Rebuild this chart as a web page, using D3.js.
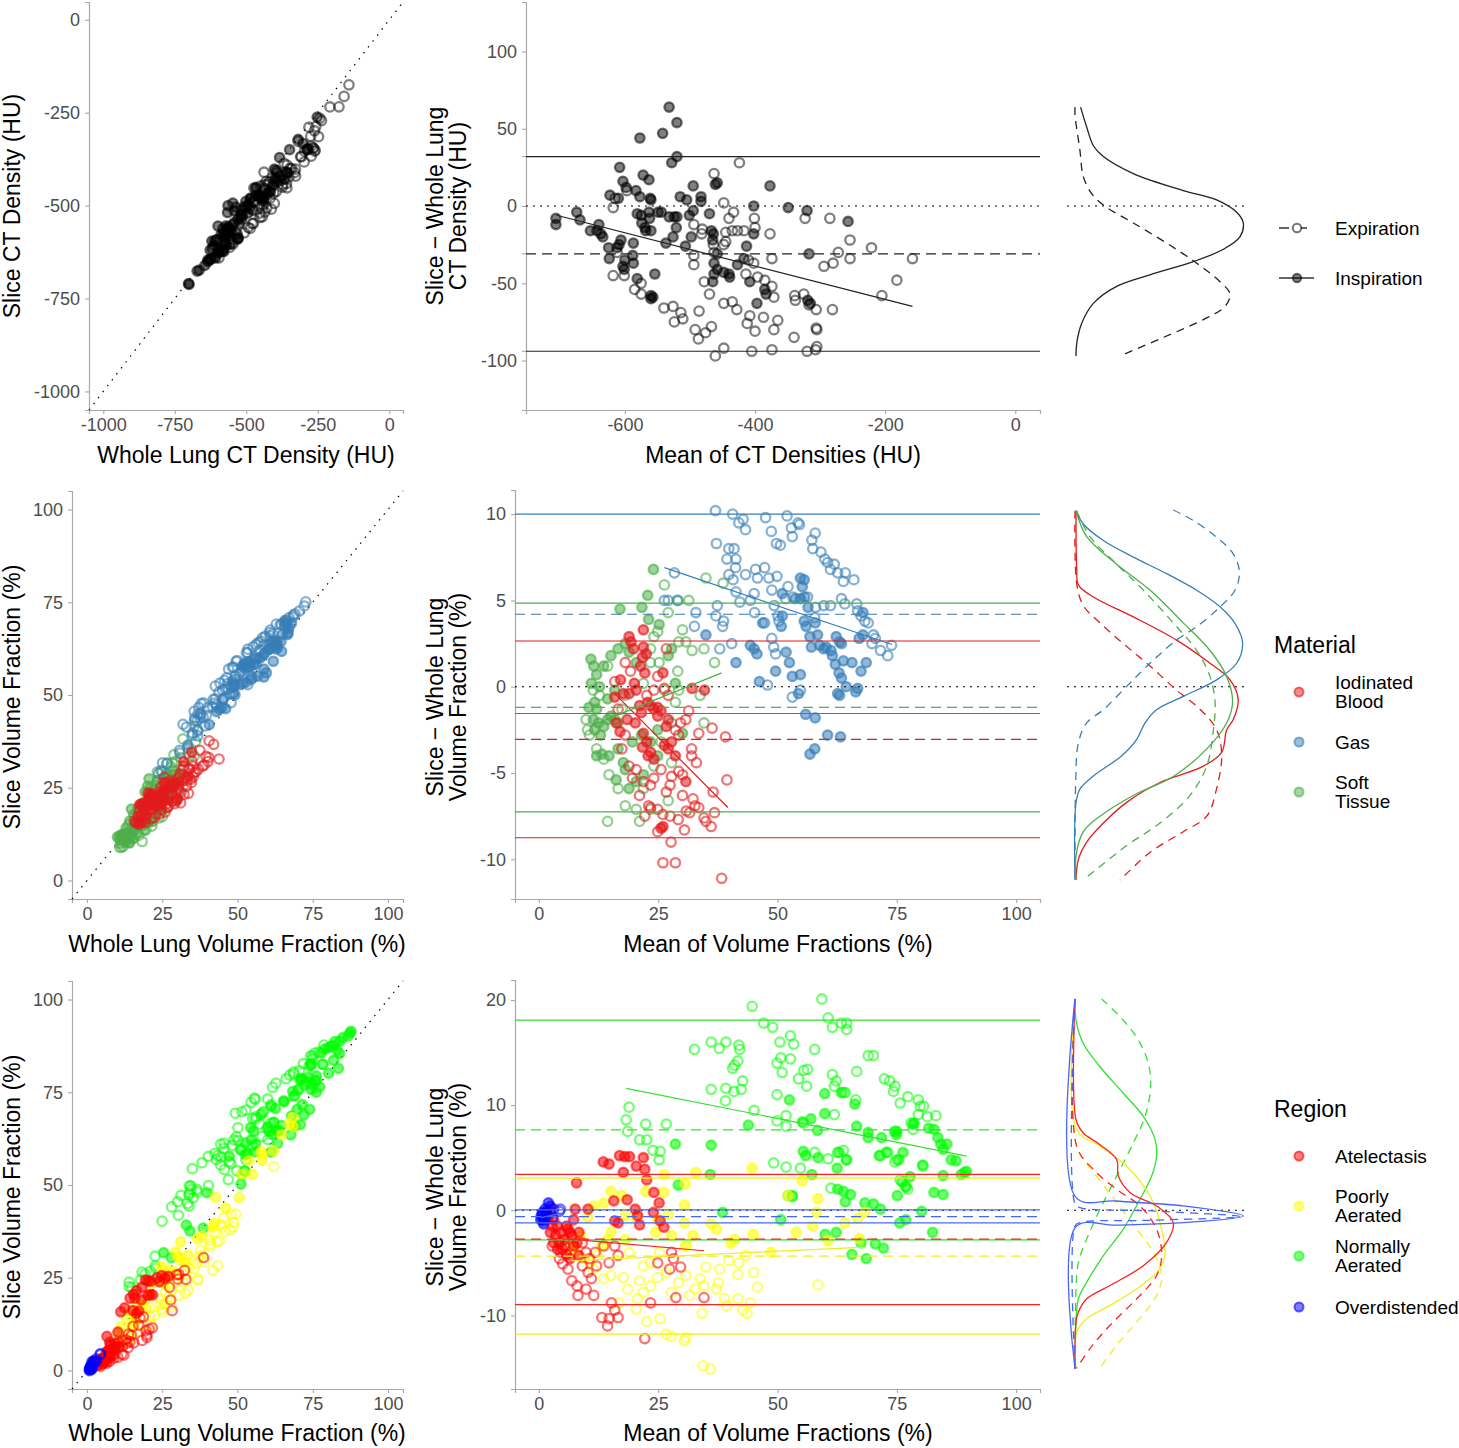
<!DOCTYPE html>
<html><head><meta charset="utf-8">
<script src="https://cdn.jsdelivr.net/npm/d3@7"></script>
<style>body{margin:0;background:#fff}svg{display:block}</style>
</head><body>
<script>
// ================= DATA =================
// ---- Row 1: CT density (HU); points stored as [mean, difference] ----
const phases = ["Expiration", "Inspiration"];
const ctInsp = [[-706,-8],[-706,-12],[-674,-4],[-669,-9],[-653,-16],[-643,-16],[-640,-12],[-637,-18],[-634,-20],[-532,64],[-520,54],[-542,47],[-577,44],[-520,32],[-528,28],[-608,25],[-572,20],[-563,17],[-603,16],[-598,12],[-583,10],[-623,7],[-610,5],[-577,6],[-561,5],[-560,4],[-515,6],[-505,4],[-495,13],[-483,6],[-483,3],[-461,14],[-458,15],[-377,13],[-402,0],[-349,-1],[-320,-3],[-257,-10],[-317,-31],[-563,-4],[-549,-4],[-544,-4],[-532,-7],[-524,-7],[-520,-7],[-575,-6],[-562,-8],[-521,-14],[-501,-6],[-495,-3],[-560,-16],[-569,-14],[-526,-20],[-507,-26],[-498,-20],[-470,-5],[-467,-16],[-464,-18],[-465,-22],[-458,-31],[-463,-37],[-463,-44],[-458,-41],[-448,-43],[-440,-44],[-439,-46],[-465,-49],[-427,-38],[-413,-26],[-417,-34],[-408,-49],[-402,-18],[-397,-63],[-385,-54],[-383,-57],[-319,-61],[-315,-63],[-537,-24],[-554,-44],[-560,-58],[-560,-60],[-557,-59],[-581,-47],[-588,-32],[-587,-37],[-600,-35],[-603,-39],[-601,-41],[-606,-22],[-609,-25],[-612,-27],[-625,-27],[-624,-34],[-587,-24],[-581,-5],[-574,-11],[-568,-16]];
const ctExp = [[-424,28],[-463,21],[-448,2],[-401,-8],[-400,-14],[-417,-16],[-435,-16],[-445,-17],[-445,-23],[-448,-25],[-481,-15],[-285,-8],[-254,-22],[-272,-30],[-221,-27],[-254,-34],[-158,-34],[-280,-37],[-294,-39],[-182,-48],[-205,-58],[-323,-8],[-374,-34],[-396,-46],[-385,-48],[-374,-52],[-371,-59],[-339,-58],[-338,-61],[-325,-57],[-317,-64],[-306,-67],[-281,-67],[-306,-79],[-305,-80],[-340,-85],[-320,-94],[-307,-93],[-305,-91],[-374,-93],[-405,-94],[-371,-80],[-365,-74],[-387,-72],[-400,-81],[-408,-71],[-412,-76],[-428,-67],[-435,-62],[-448,-63],[-448,-92],[-461,-97],[-467,-78],[-476,-82],[-487,-86],[-492,-80],[-486,-68],[-478,-49],[-470,-57],[-514,-69],[-511,-73],[-526,-65],[-524,-75],[-540,-66],[-575,-57],[-575,-50],[-585,-54],[-601,-45],[-618,-45],[-612,-30],[-618,-1],[-615,5],[-597,10],[-494,-12],[-482,-18],[-494,-32],[-494,-38],[-440,-8],[-433,-4],[-427,-16],[-414,-44],[-464,-25],[-463,-30],[-410,-35],[-402,-37],[-377,-18]];
const ctBias = -31, ctUpper = 32, ctLower = -94;
const ctReg = [[-705,-6],[-158,-65]];
const ctDensInsp = [[64,0.033],[51,0.069],[39,0.108],[32,0.167],[21,0.343],[10,0.637],[4,0.833],[-4,0.951],[-11,0.99],[-20,0.97],[-28,0.873],[-36,0.696],[-44.5,0.441],[-52,0.245],[-63,0.108],[-76,0.039],[-89,0.01],[-97,0.006]];
const ctDensExp = [[64,0.0],[59,0.0],[36,0.029],[19,0.049],[8,0.098],[0.6,0.167],[-11,0.343],[-24,0.539],[-37,0.716],[-49,0.853],[-57,0.912],[-65,0.882],[-73.5,0.755],[-85,0.52],[-97,0.265]];
const ctXTicksScatter = [-1000,-750,-500,-250,0];
const ctXTicksBA = [-600,-400,-200,0];
const ctYTicksBA = [-100,-50,0,50,100];

// ---- Row 2: Material volume fractions (%) ----
const materials = ["Iodinated Blood", "Gas", "Soft Tissue"];
const materialColors = ["#E41A1C", "#377EB8", "#4DAF4A"];
const gasExp = [[37.0,10.2],[40.6,10.0],[41.9,9.5],[42.8,9.7],[43.3,9.1],[47.5,9.8],[52.0,9.9],[52.9,9.2],[53.1,8.7],[54.3,9.5],[54.6,9.4],[48.7,9.0],[49.8,8.3],[50.6,8.2],[57.9,8.9],[57.2,8.5],[57.4,8.0],[59.1,7.8],[59.9,7.4],[60.5,7.2],[61.9,7.1],[61.1,6.8],[62.6,6.6],[64.2,6.6],[63.8,6.1],[66.0,6.2],[37.2,8.3],[39.8,8.0],[40.9,8.0],[39.4,7.4],[41.3,7.4],[41.2,6.9],[39.8,6.5],[40.7,6.2],[43.3,6.5],[45.4,6.8],[47.3,6.9],[45.8,6.3],[48.2,6.3],[49.9,6.4],[28.4,6.6],[26.3,5.0],[27.1,5.0],[29.0,5.0],[32.9,4.3],[32.6,3.5],[37.4,4.7],[37.1,4.1],[38.7,3.8],[38.5,3.5],[41.3,5.5],[42.1,4.9],[44.3,5.0],[45.1,5.4],[45.2,4.3],[47.3,3.7],[48.8,5.6],[49.3,4.7],[50.1,4.1],[50.3,3.8],[52.2,5.8],[51.7,5.1],[53.2,5.2],[56.3,5.2],[58.0,4.6],[57.8,4.0],[59.7,4.7],[61.1,4.7],[63.4,5.1],[64.1,4.8],[66.6,4.8],[66.8,4.4],[67.5,4.1],[68.3,3.8],[69.0,3.7],[70.1,3.0],[70.5,2.8],[71.6,2.1],[73.1,1.8],[73.9,2.4],[69.8,2.5],[49.2,2.3],[49.6,1.9],[48.8,2.8],[37.9,2.2],[40.4,2.5],[47.9,0.1],[53.1,-0.6],[54.8,-0.2]];
const gasInsp = [[35.0,3.0],[41.3,1.4],[44.3,2.4],[45.1,2.2],[45.7,1.9],[46.2,0.3],[46.9,3.7],[49.6,0.9],[51.0,4.1],[50.8,3.5],[51.8,2.0],[52.5,1.4],[53.1,0.6],[54.8,0.7],[54.4,-0.4],[54.8,5.1],[55.7,5.2],[55.6,3.8],[56.0,3.5],[56.8,2.9],[57.1,2.3],[57.9,3.7],[58.4,3.0],[58.8,2.4],[59.7,2.2],[60.2,2.3],[61.2,2.1],[61.5,1.8],[62.1,1.3],[62.9,0.8],[63.4,0.5],[64.4,0.0],[66.4,-0.3],[66.8,-0.1],[65.6,1.4],[67.5,0.9],[68.6,1.4],[67.1,2.8],[67.9,3.0],[67.9,4.3],[62.3,2.9],[63.0,2.6],[63.4,2.5],[63.8,1.5],[55.9,-1.6],[57.9,-1.8],[60.5,-2.8],[63.2,-2.9],[56.8,-3.9],[57.8,-3.6],[63.0,-0.5],[62.6,-0.4],[55.6,6.2],[54.8,6.3],[55.2,5.8],[53.7,5.1],[56.4,4.6],[51.0,5.4]];
const bloodInsp = [[21.9,3.3],[19.3,2.6],[19.8,2.2],[21.7,1.7],[22.5,1.9],[21.3,1.2],[22.2,0.8],[26.0,0.8],[20.0,0.2],[22.8,-0.9],[23.4,-1.1],[24.1,-1.3],[24.9,-1.2],[25.6,-1.4],[21.1,-1.1],[21.5,-1.5],[24.9,-1.7],[27.1,-1.9],[26.7,-2.3],[20.2,-2.1],[21.9,-2.7],[22.6,-3.2],[21.7,-3.5],[23.4,-3.8],[27.8,-3.2],[27.1,-3.6],[28.6,-4.0],[30.8,-5.5],[17.1,0.4],[17.7,-0.4],[18.9,-0.4],[20.4,-0.2],[32.1,-0.1],[34.7,-0.2],[18.9,2.9],[21.9,2.3],[25.6,-8.2],[26.0,-8.1],[15.9,-0.6],[16.2,-2.1],[17.0,-2.6],[18.5,-1.9],[22.9,-4.0],[24.1,-4.2],[26.3,-3.4]];
const bloodExp = [[26.0,-10.2],[28.6,-10.2],[38.3,-11.1],[36.5,-6.1],[39.4,-5.4],[39.1,-2.9],[36.3,-2.4],[33.5,-2.7],[32.0,-3.6],[32.0,-4.0],[33.0,-4.4],[29.3,-4.9],[30.1,-5.1],[27.8,-5.2],[27.5,-5.7],[26.7,-6.1],[30.1,-6.3],[32.3,-6.5],[32.7,-6.9],[33.5,-7.0],[30.9,-7.2],[31.6,-7.3],[23.4,-7.0],[24.9,-7.1],[26.0,-7.4],[27.5,-7.5],[29.2,-7.7],[30.5,-8.3],[27.7,-9.0],[34.6,-7.6],[35.0,-7.8],[36.1,-8.1],[36.8,-7.3],[24.9,-8.4],[22.2,-7.5],[23.0,-6.9],[21.1,-6.3],[21.9,-5.5],[23.4,-5.7],[24.1,-5.3],[20.4,-4.8],[19.6,-5.3],[18.9,-4.6],[25.6,-4.8],[28.6,-2.5],[29.3,-2.8],[29.7,-2.1],[30.8,-1.9],[31.4,-1.4],[27.1,-0.5],[26.3,-0.1],[24.1,-0.2],[24.9,0.6],[26.7,2.2],[22.6,-0.5],[18.1,-2.8],[17.4,-3.6],[16.6,-1.3],[18.1,1.4],[19.2,0.9],[15.9,0.3]];
const softInsp = [[24.0,6.8],[22.8,5.3],[17.0,4.5],[21.6,4.6],[25.2,3.6],[23.0,3.9],[10.9,1.6],[11.5,1.2],[12.1,0.7],[11.0,0.2],[12.7,0.0],[10.5,-1.2],[11.7,-0.9],[12.1,-1.3],[11.4,-1.9],[12.5,-2.1],[13.6,-2.3],[11.7,-2.5],[12.9,-2.8],[14.4,-1.9],[15.1,-1.7],[16.6,-2.1],[14.4,-0.7],[15.9,-0.2],[13.6,1.2],[15.1,1.8],[16.6,2.2],[18.1,2.5],[18.9,2.0],[20.4,1.4],[12.1,-4.0],[13.2,-3.9],[14.7,-4.0],[16.6,-3.6],[16.2,-5.4],[18.1,-4.8],[20.4,-5.5],[18.9,-5.9],[21.9,-5.1],[17.7,-4.4],[24.9,-2.5],[28.6,0.2],[30.1,-2.7],[23.4,-3.2],[24.9,-4.0],[27.1,1.8],[27.8,2.2],[19.6,-3.2],[21.5,-2.8]];
const softExp = [[35.0,6.3],[38.6,6.0],[26.3,5.9],[29.2,5.0],[31.4,5.0],[27.1,4.3],[30.1,3.3],[29.3,2.6],[30.8,2.6],[34.6,2.2],[32.1,2.1],[36.8,1.4],[24.9,3.2],[24.1,2.9],[23.4,2.2],[33.8,-0.5],[34.6,-2.1],[29.1,0.9],[29.3,-0.2],[28.6,-0.9],[14.4,1.2],[9.9,-1.9],[10.2,-2.5],[10.6,-2.8],[12.1,-3.6],[13.6,-4.2],[14.7,-5.1],[14.4,-7.8],[21.1,-7.8],[20.4,-7.1],[23.4,-7.1],[27.1,-6.6],[27.8,-4.4],[11.4,-0.2],[12.7,-0.5],[15.9,-1.9],[17.4,-1.3],[18.1,-0.5],[21.9,0.2],[23.4,1.4],[25.2,1.4],[26.3,-0.2],[27.8,-2.1],[25.6,-3.2],[24.1,-4.6],[21.9,-5.9],[16.6,-5.9],[18.1,-6.9]];
const materialBias = [-3.05, 4.2, -1.2];
const materialUpper = [2.65, 10.0, 4.85];
const materialLower = [-8.75, -1.55, -7.25];
const materialReg = [[[15.9,-0.4],[39.6,-7.0]], [[26.3,6.9],[74.0,2.45]], [[10.6,-2.3],[38.3,0.8]]];
const bloodDensInsp = [[10.2,0.006],[6.9,0.01],[5.9,0.02],[5.2,0.108],[4.05,0.343],[2.7,0.598],[1.36,0.794],[0.4,0.912],[-0.75,0.96],[-1.9,0.931],[-2.5,0.892],[-3.8,0.863],[-4.6,0.755],[-5.55,0.5],[-6.7,0.304],[-7.9,0.167],[-9.0,0.069],[-10.0,0.02],[-11.2,0.006]];
const bloodDensExp = [[10.2,0.0],[6.0,0.01],[4.7,0.049],[3.7,0.147],[2.5,0.284],[1.2,0.441],[-0.2,0.598],[-1.3,0.735],[-2.5,0.833],[-4.0,0.863],[-5.9,0.833],[-7.5,0.775],[-8.4,0.637],[-9.6,0.441],[-11.2,0.265]];
const gasDensInsp = [[10.2,0.006],[9.43,0.049],[8.47,0.167],[7.51,0.343],[6.55,0.539],[5.59,0.716],[4.63,0.853],[3.67,0.941],[2.52,0.986],[1.36,0.951],[0.4,0.833],[-0.56,0.637],[-1.33,0.48],[-2.09,0.412],[-3.05,0.363],[-4.0,0.275],[-5.17,0.108],[-5.93,0.029],[-6.7,0.006],[-11.2,0.0]];
const gasDensExp = [[10.24,0.578],[9.63,0.696],[8.66,0.833],[7.7,0.931],[6.65,0.967],[5.59,0.941],[4.63,0.853],[3.48,0.716],[2.71,0.598],[1.36,0.441],[0.02,0.304],[-1.33,0.167],[-2.09,0.069],[-3.25,0.02],[-5.55,0.004],[-11.2,0.0]];
const softDensInsp = [[10.2,0.006],[8.7,0.069],[7.1,0.245],[5.6,0.441],[3.7,0.637],[2.1,0.794],[0.6,0.892],[-0.9,0.927],[-2.1,0.892],[-3.6,0.775],[-5.2,0.578],[-6.3,0.343],[-7.5,0.147],[-8.4,0.049],[-9.8,0.006],[-11.2,0.006]];
const softDensExp = [[10.2,0.01],[8.7,0.088],[7.1,0.245],[5.6,0.402],[3.7,0.578],[2.1,0.716],[0.6,0.794],[-0.9,0.824],[-2.5,0.814],[-4.6,0.775],[-6.3,0.676],[-7.9,0.5],[-9.2,0.304],[-11.2,0.049]];
const fracTicks = [0,25,50,75,100];
const materialYTicksBA = [-10,-5,0,5,10];

// ---- Row 3: Region volume fractions (%) ----
const regions = ["Atelectasis", "Poorly Aerated", "Normally Aerated", "Overdistended"];
const regionColors = ["#FF0000", "#FFFF00", "#00FF00", "#0000FF"];
const ateInsp = [[13.5,4.6],[14.7,4.4],[16.9,5.2],[18.0,5.1],[19.0,5.1],[20.4,4.2],[21.9,5.0],[22.2,3.9],[22.6,2.9],[17.7,3.6],[7.9,2.6],[7.6,0.1],[10.3,0.1],[15.7,0.9],[18.5,1.0],[24.1,1.7],[25.2,0.7],[24.0,-0.2],[26.2,-1.6],[20.7,-0.5],[21.1,-1.4],[15.9,-1.0],[16.6,-1.2],[2.4,0.1],[3.1,-0.9],[3.9,-1.5],[4.6,-2.1],[3.5,-2.4],[4.3,-3.1],[5.0,-3.7],[5.8,-4.2],[6.5,-4.6],[7.3,-3.4],[6.1,-1.8],[5.4,-2.8],[6.9,-2.4],[8.0,-3.1],[8.4,-4.3],[25.4,-1.0],[20.2,0.1],[1.6,-0.2],[2.0,-0.7],[2.8,-1.5],[2.4,-2.1],[3.1,-3.1],[3.9,-3.7],[5.8,-1.5],[6.5,-2.1],[7.3,-0.9],[8.4,-2.1]];
const ateExp = [[4.3,-4.6],[5.0,-5.1],[6.1,-5.6],[9.1,-5.3],[10.3,-5.9],[12.1,-5.3],[11.0,-6.5],[6.9,-6.7],[8.0,-7.2],[9.9,-7.5],[8.2,-8.1],[11.5,-8.1],[13.2,-10.2],[14.4,-11.0],[14.7,-10.3],[16.6,-10.2],[15.2,-8.8],[15.9,-9.5],[22.2,-12.2],[28.7,-8.3],[34.6,-8.3],[23.4,-8.8],[27.8,-4.0],[28.2,-4.6],[27.4,-5.6],[29.7,-5.4],[24.9,-5.0],[16.6,-4.3],[15.9,-3.4],[2.8,-3.4],[4.6,-4.0],[5.4,-3.4],[9.1,-3.1],[9.9,-4.0],[10.6,-4.6],[11.8,-4.0],[13.6,-3.4],[14.7,-5.0]];
const poorInsp = [[44.7,4.0],[55.2,2.8],[58.5,1.1],[52.2,1.4],[58.2,-0.2],[57.4,-1.5],[53.9,-2.1],[64.1,-1.2],[66.8,-0.8],[67.1,-2.7],[68.3,-0.2],[60.6,-2.9],[48.6,-4.0],[44.9,-2.3],[36.1,-1.3],[37.2,-1.8],[41.0,-2.8],[40.2,-3.1],[32.9,3.6],[30.7,2.5],[30.5,0.5],[26.3,3.4],[26.2,1.7],[22.4,1.8],[17.4,1.4],[15.1,1.8],[13.6,0.7],[11.5,0.4],[10.2,-0.7],[18.1,-0.5],[20.4,-0.7],[24.9,-0.9],[27.1,-0.4],[27.8,-2.4],[30.5,-1.2],[32.3,-2.4],[30.8,-3.4],[18.1,-2.8],[15.1,-2.1],[13.2,-3.4],[6.9,-3.4],[7.6,-3.9],[8.8,-2.4],[14.4,-2.8],[24.5,-2.1]];
const poorExp = [[58.5,-7.1],[45.0,-5.9],[45.8,-7.3],[43.4,-4.3],[41.9,-5.0],[41.7,-6.1],[39.8,-4.8],[37.9,-5.6],[37.2,-7.5],[37.6,-6.9],[35.0,-5.4],[33.8,-6.5],[34.6,-7.2],[32.7,-7.5],[31.6,-8.1],[27.8,-7.8],[29.3,-6.9],[30.8,-6.2],[26.7,-5.9],[24.9,-6.4],[23.4,-7.2],[21.9,-7.8],[20.7,-8.4],[20.4,-9.4],[22.6,-10.6],[25.4,-10.3],[26.7,-11.8],[27.7,-12.0],[30.5,-12.4],[30.8,-12.1],[34.2,-9.8],[34.4,-14.8],[35.9,-15.1],[38.9,-8.4],[39.4,-9.1],[41.7,-8.4],[42.7,-9.5],[43.6,-9.8],[44.3,-8.8],[25.3,-4.0],[12.1,-4.3],[10.6,-5.0],[11.4,-5.6],[13.6,-6.5],[15.1,-6.2],[17.7,-6.4],[18.6,-7.5],[16.8,-8.8],[21.1,-6.7],[21.9,-5.3],[23.4,-5.0],[9.5,-4.6],[18.9,-4.0],[30.8,-3.4]];
const normalExp = [[44.7,19.4],[59.3,20.1],[47.1,17.8],[49.0,17.4],[60.6,18.3],[61.5,17.4],[63.4,17.8],[64.5,17.8],[64.5,17.2],[32.6,15.3],[36.1,16.0],[37.8,15.4],[39.2,16.0],[41.9,15.7],[42.1,15.3],[41.0,13.8],[40.6,13.5],[41.7,14.2],[42.7,12.3],[36.1,11.5],[39.2,11.6],[40.9,11.3],[42.4,11.5],[39.1,10.4],[50.5,16.0],[52.7,16.6],[53.4,15.8],[50.7,14.5],[52.7,14.4],[49.9,14.0],[51.0,13.1],[57.8,15.3],[54.4,12.5],[55.5,13.3],[56.3,13.4],[56.1,11.8],[61.5,12.9],[62.3,12.3],[61.9,11.8],[63.8,11.2],[64.2,11.2],[66.4,10.5],[66.6,13.2],[69.0,14.7],[70.1,14.7],[72.4,12.5],[73.5,12.3],[74.6,11.8],[74.3,11.3],[75.7,10.2],[77.3,10.8],[79.5,10.5],[79.9,9.9],[80.6,9.9],[79.5,9.1],[81.4,8.9],[83.2,9.0],[78.0,8.3],[78.4,7.7],[49.9,11.0],[49.9,8.5],[51.8,9.0],[51.8,8.0],[55.5,8.3],[61.9,9.1],[45.1,9.5],[18.9,9.8],[18.3,8.6],[18.6,7.5],[22.4,8.2],[26.7,8.2],[21.1,6.7],[22.6,6.7],[23.9,5.7],[25.4,5.6],[25.2,4.8],[49.2,4.5],[51.8,4.1],[54.8,4.0],[57.8,5.5],[60.6,4.9],[62.6,5.5],[63.8,5.7],[64.4,4.8],[71.6,5.2],[73.1,5.5],[74.6,4.6],[75.0,4.8],[75.7,2.9],[76.9,2.3],[77.3,2.0],[80.5,4.2],[52.2,1.4],[53.1,1.3],[61.2,2.1]];
const normalInsp = [[43.9,8.1],[36.1,6.2],[28.6,6.3],[29.2,2.4],[35.9,3.4],[38.5,-0.2],[50.7,-0.9],[52.5,10.5],[59.9,11.1],[59.9,9.2],[55.2,8.4],[57.0,8.7],[58.4,7.6],[66.6,8.0],[69.0,7.4],[69.0,6.9],[71.8,6.9],[75.0,7.5],[78.4,8.2],[81.7,7.8],[82.8,7.7],[83.6,6.9],[84.2,6.3],[84.7,5.8],[85.5,6.3],[86.4,4.8],[87.4,4.7],[89.2,3.6],[89.6,3.7],[88.5,3.4],[84.7,3.3],[82.8,1.7],[84.7,1.5],[77.8,3.2],[76.1,2.7],[76.9,2.2],[75.1,1.4],[71.3,5.2],[72.8,5.5],[75.4,4.8],[80.4,4.3],[71.6,0.1],[80.2,-0.1],[75.6,-1.2],[76.9,-0.9],[82.5,-2.1],[70.5,-3.2],[72.2,-3.6],[68.6,-4.6],[65.6,-4.2],[67.5,-3.1],[68.3,0.7],[70.1,0.6],[64.2,0.8],[63.8,1.8],[62.6,2.0],[65.3,1.5],[62.3,-2.1],[60.0,-2.3],[57.2,3.4],[55.4,5.6],[55.9,5.2],[58.5,5.0],[62.9,5.5],[62.5,4.0],[64.5,4.8],[53.1,1.4],[63.4,11.2],[66.2,10.1],[78.6,8.3],[74.5,7.5],[74.9,7.2],[76.3,5.5]];
const overInsp = [[0.8,-0.2],[0.5,-0.5],[0.9,-1.0],[1.3,0.1],[1.7,-0.5],[2.0,0.7],[2.4,0.4],[1.5,-0.2],[0.4,-0.9],[1.0,-1.3]];
const overExp = [[3.1,0.1],[4.3,-0.1],[2.4,-0.2],[2.8,-0.7],[1.2,-0.6],[0.7,-0.4],[4.5,0.1]];
const regionBias = [-2.75, -4.36, 7.64, -0.6];
const regionUpper = [3.41, 3.06, 18.09, 0.03];
const regionLower = [-8.97, -11.78, -2.81, -1.2];
const regionReg = [[[6.5,-2.75],[34.6,-3.85]], [[6.9,-4.8],[68.6,-3.5]], [[18.3,11.6],[89.6,5.15]], [[0.4,-0.7],[4.5,-0.3]]];
const ateDensInsp = [[20.1,0],[8.61,0.006],[7.35,0.049],[6.24,0.147],[4.82,0.245],[3.25,0.255],[1.67,0.324],[0.41,0.48],[-1.17,0.578],[-3.06,0.539],[-5.27,0.402],[-7.16,0.206],[-8.42,0.069],[-9.68,0.02],[-10.63,0.006],[-15.1,0]];
const ateDensExp = [[20.1,0],[6.09,0.01],[3.88,0.108],[1.99,0.245],[0.41,0.382],[-1.8,0.48],[-4.32,0.51],[-6.21,0.48],[-8.42,0.363],[-10.94,0.206],[-13.15,0.088],[-15.04,0.01]];
const poorDensInsp = [[20.1,0],[7.66,0.01],[6.09,0.147],[4.19,0.304],[1.36,0.441],[-1.17,0.5],[-4.0,0.529],[-5.58,0.5],[-7.47,0.363],[-9.05,0.206],[-10.31,0.069],[-11.57,0.01],[-15.04,0.006]];
const poorDensExp = [[20.1,0],[6.09,0.01],[3.25,0.127],[0.73,0.245],[-1.8,0.363],[-4.0,0.461],[-6.21,0.51],[-8.1,0.48],[-10.63,0.363],[-12.84,0.245],[-15.04,0.147]];
const normalDensInsp = [[20.1,0],[18.07,0.006],[15.86,0.049],[13.65,0.147],[11.13,0.284],[8.92,0.402],[6.72,0.471],[5.14,0.48],[3.25,0.451],[1.04,0.382],[-1.8,0.284],[-4.32,0.167],[-6.84,0.069],[-8.42,0.02],[-10.63,0.006],[-15.1,0]];
const normalDensExp = [[20.1,0.157],[18.07,0.284],[16.18,0.373],[13.97,0.431],[11.76,0.445],[8.92,0.412],[6.4,0.343],[3.25,0.245],[0.09,0.147],[-2.74,0.069],[-4.95,0.02],[-7.47,0.006],[-15.1,0]];
const overDensInsp = [[20.1,0],[1.2,0.006],[0.88,0.24],[0.41,0.637],[-0.54,0.99],[-1.17,0.637],[-1.42,0.245],[-1.55,0.006],[-15.1,0]];
const overDensExp = [[20.1,0],[0.6,0.0],[0.25,0.03],[-0.06,0.45],[-0.6,0.97],[-0.95,0.45],[-1.17,0.03],[-1.5,0],[-15.1,0]];
const regionYTicksBA = [-10,0,10,20];

// ================= DRAWING =================
const FONT = "'Liberation Sans', Arial, Helvetica, sans-serif";
const TICK_FS = 18, TITLE_FS = 23, LEG_FS = 19, LEGT_FS = 23;
const svg = d3.select("body").append("svg").attr("width", 1459).attr("height", 1448).style("font-family", FONT);

function styleAxis(g) {
  g.select(".domain").attr("stroke", "#a8a8a8").attr("stroke-width", 1.2);
  g.selectAll(".tick line").attr("stroke", "#a8a8a8").attr("stroke-width", 1.1);
  g.selectAll(".tick text").attr("fill", "#4d4d4d").attr("font-size", TICK_FS).attr("font-family", FONT);
}

function makePanel(box, xDom, yDom, xTicks, yTicks) {
  const x = d3.scaleLinear().domain(xDom).range([box.l, box.r]);
  const y = d3.scaleLinear().domain(yDom).range([box.b, box.t]);
  svg.append("g").attr("transform", `translate(0,${box.b})`)
    .call(d3.axisBottom(x).tickValues(xTicks).tickSizeOuter(0).tickSize(4).tickPadding(4).tickFormat(d => String(d)))
    .call(styleAxis);
  svg.append("g").attr("transform", `translate(${box.l},0)`)
    .call(d3.axisLeft(y).tickValues(yTicks).tickSizeOuter(0).tickSize(4).tickPadding(5).tickFormat(d => String(d)))
    .call(styleAxis);
  return { x, y, box };
}

function axisTitleX(text, cx, cy) {
  svg.append("text").attr("x", cx).attr("y", cy).attr("text-anchor", "middle")
    .attr("font-size", TITLE_FS).attr("fill", "#000").text(text);
}
function axisTitleY(lines, cx, cy) {
  const t = svg.append("text").attr("transform", `translate(${cx},${cy}) rotate(-90)`)
    .attr("text-anchor", "middle").attr("font-size", TITLE_FS).attr("fill", "#000");
  lines.forEach((ln, i) => {
    t.append("tspan").attr("x", 0).attr("dy", i === 0 ? (0.35 - (lines.length - 1) * 0.5) + "em" : "1.0em").text(ln);
  });
}

function drawPoints(p, arr, color, filled, mode, op) {
  const toXY = mode === "scatter" ? d => [d[0] - d[1] / 2, d[0] + d[1] / 2] : d => d;
  svg.append("g").selectAll("circle").data(arr).join("circle")
    .attr("cx", d => p.x(toXY(d)[0])).attr("cy", d => p.y(toXY(d)[1])).attr("r", 4.7)
    .attr("fill", filled ? color : "none").attr("fill-opacity", op.fill)
    .attr("stroke", color).attr("stroke-opacity", op.stroke).attr("stroke-width", 2.3);
}

function diagonal(p) {
  const d0 = Math.max(p.x.domain()[0], p.y.domain()[0]);
  const d1 = Math.min(p.x.domain()[1], p.y.domain()[1]);
  svg.append("line").attr("x1", p.x(d0)).attr("y1", p.y(d0)).attr("x2", p.x(d1)).attr("y2", p.y(d1))
    .attr("stroke", "#000").attr("stroke-width", 1.2).attr("stroke-dasharray", "1.5,6");
}

function hline(p, v, color, dash, width) {
  svg.append("line").attr("x1", p.box.l).attr("x2", p.box.r).attr("y1", p.y(v)).attr("y2", p.y(v))
    .attr("stroke", color).attr("stroke-width", width || 1.2).attr("stroke-dasharray", dash || null);
}
function regLine(p, seg, color) {
  svg.append("line").attr("x1", p.x(seg[0][0])).attr("y1", p.y(seg[0][1]))
    .attr("x2", p.x(seg[1][0])).attr("y2", p.y(seg[1][1])).attr("stroke", color).attr("stroke-width", 1.2);
}
function axisMark(p, v) {
  svg.append("line").attr("x1", p.box.l - 4).attr("x2", p.box.l).attr("y1", p.y(v)).attr("y2", p.y(v))
    .attr("stroke", "#a8a8a8").attr("stroke-width", 1.1);
}

const densX = d3.scaleLinear().domain([0, 1]).range([1075, 1245]);
function densityCurve(yScale, arr, color, dashed) {
  const line = d3.line().x(d => densX(d[1])).y(d => yScale(d[0])).curve(d3.curveCatmullRom.alpha(0.5));
  svg.append("path").attr("d", line(arr)).attr("fill", "none").attr("stroke", color)
    .attr("stroke-width", 1.3).attr("stroke-dasharray", dashed ? "8,6" : null);
}
function densityZero(yScale) {
  svg.append("line").attr("x1", 1067).attr("x2", 1245).attr("y1", yScale(0)).attr("y2", yScale(0))
    .attr("stroke", "#000").attr("stroke-width", 1.1).attr("stroke-dasharray", "2,5");
}

// ---------- Row 1 ----------
{
  const sc = makePanel({ l: 89, r: 403, t: 2, b: 410 }, [-1050, 48], [-1050, 48], ctXTicksScatter, ctXTicksScatter);
  diagonal(sc);
  const opE = { fill: 0, stroke: 0.5 }, opI = { fill: 0.5, stroke: 0.55 };
  drawPoints(sc, ctExp, "#000", false, "scatter", opE);
  drawPoints(sc, ctInsp, "#000", true, "scatter", opI);
  axisTitleX("Whole Lung CT Density (HU)", 246, 463);
  axisTitleY(["Slice CT Density (HU)"], 12, 206);

  const ba = makePanel({ l: 526, r: 1040, t: 2, b: 410 }, [-752, 38], [-132, 132], ctXTicksBA, ctYTicksBA);
  [ctUpper, ctBias, ctLower].forEach(v => axisMark(ba, v));
  drawPoints(ba, ctExp, "#000", false, "ba", opE);
  drawPoints(ba, ctInsp, "#000", true, "ba", opI);
  hline(ba, 0, "#000", "2,5", 1.1);
  hline(ba, ctUpper, "#222");
  hline(ba, ctLower, "#222");
  hline(ba, ctBias, "#222", "10,6");
  regLine(ba, ctReg, "#222");
  axisTitleX("Mean of CT Densities (HU)", 783, 463);
  axisTitleY(["Slice − Whole Lung", "CT Density (HU)"], 446, 206);

  densityZero(ba.y);
  densityCurve(ba.y, ctDensInsp, "#222", false);
  densityCurve(ba.y, ctDensExp, "#222", true);

  const lg = svg.append("g");
  [["Expiration", 228, true], ["Inspiration", 278, false]].forEach(([lab, yy, dashed]) => {
    lg.append("line").attr("x1", 1279).attr("x2", 1314).attr("y1", yy).attr("y2", yy)
      .attr("stroke", "#333").attr("stroke-width", 1.3).attr("stroke-dasharray", dashed ? "10,8" : null);
    lg.append("circle").attr("cx", 1297).attr("cy", yy).attr("r", 4.2).attr("fill", dashed ? "#fff" : "#000")
      .attr("fill-opacity", dashed ? 1 : 0.5).attr("stroke", "#000").attr("stroke-opacity", 0.55).attr("stroke-width", 2);
    lg.append("text").attr("x", 1335).attr("y", yy).attr("dy", "0.35em").attr("font-size", LEG_FS).text(lab);
  });
}

// ---------- Row 2 ----------
{
  const sc = makePanel({ l: 72, r: 403, t: 491, b: 899 }, [-5, 105], [-5, 105], fracTicks, fracTicks);
  diagonal(sc);
  const opE = { fill: 0, stroke: 0.6 }, opI = { fill: 0.55, stroke: 0.65 };
  const groups = [[softExp, softInsp, 2], [gasExp, gasInsp, 1], [bloodExp, bloodInsp, 0]];
  groups.forEach(([e, i, k]) => { drawPoints(sc, e, materialColors[k], false, "scatter", opE); drawPoints(sc, i, materialColors[k], true, "scatter", opI); });
  axisTitleX("Whole Lung Volume Fraction (%)", 237, 952);
  axisTitleY(["Slice Volume Fraction (%)"], 12, 697);

  const ba = makePanel({ l: 515, r: 1040, t: 490, b: 899 }, [-5, 105], [-12.3, 11.4], fracTicks, materialYTicksBA);
  groups.forEach(([e, i, k]) => { drawPoints(ba, e, materialColors[k], false, "ba", opE); drawPoints(ba, i, materialColors[k], true, "ba", opI); });
  hline(ba, 0, "#000", "2,5", 1.1);
  materials.forEach((m, k) => {
    const c = materialColors[k];
    hline(ba, materialUpper[k], c);
    hline(ba, materialLower[k], c);
    hline(ba, materialBias[k], c, "10,6");
    regLine(ba, materialReg[k], c);
  });
  axisTitleX("Mean of Volume Fractions (%)", 778, 952);
  axisTitleY(["Slice − Whole Lung", "Volume Fraction (%)"], 446, 697);

  densityZero(ba.y);
  const dens = [[bloodDensInsp, bloodDensExp, 0], [gasDensInsp, gasDensExp, 1], [softDensInsp, softDensExp, 2]];
  dens.forEach(([di, de, k]) => { densityCurve(ba.y, de, materialColors[k], true); densityCurve(ba.y, di, materialColors[k], false); });

  const lg = svg.append("g");
  lg.append("text").attr("x", 1274).attr("y", 653).attr("font-size", LEGT_FS).text("Material");
  const items = [[["Iodinated", "Blood"], 692], [["Gas"], 742], [["Soft", "Tissue"], 792]];
  items.forEach(([lines, yy], k) => {
    lg.append("circle").attr("cx", 1299).attr("cy", yy).attr("r", 4.5).attr("fill", materialColors[k]).attr("fill-opacity", 0.5)
      .attr("stroke", materialColors[k]).attr("stroke-opacity", 0.6).attr("stroke-width", 2);
    lines.forEach((ln, j) => {
      lg.append("text").attr("x", 1335).attr("y", yy + (j - (lines.length - 1) / 2) * 19.5).attr("dy", "0.35em").attr("font-size", LEG_FS).text(ln);
    });
  });
}

// ---------- Row 3 ----------
{
  const sc = makePanel({ l: 72, r: 403, t: 981, b: 1389 }, [-5, 105], [-5, 105], fracTicks, fracTicks);
  diagonal(sc);
  const opE = { fill: 0, stroke: 0.55 }, opI = { fill: 0.55, stroke: 0.6 };
  const groups = [[normalExp, normalInsp, 2], [poorExp, poorInsp, 1], [ateExp, ateInsp, 0], [overExp, overInsp, 3]];
  groups.forEach(([e, i, k]) => { drawPoints(sc, e, regionColors[k], false, "scatter", opE); drawPoints(sc, i, regionColors[k], true, "scatter", opI); });
  axisTitleX("Whole Lung Volume Fraction (%)", 237, 1441);
  axisTitleY(["Slice Volume Fraction (%)"], 12, 1187);

  const ba = makePanel({ l: 515, r: 1040, t: 980, b: 1389 }, [-5, 105], [-17.0, 21.9], fracTicks, regionYTicksBA);
  groups.forEach(([e, i, k]) => { drawPoints(ba, e, regionColors[k], false, "ba", opE); drawPoints(ba, i, regionColors[k], true, "ba", opI); });
  hline(ba, 0, "#000", "2,5", 1.1);
  const lineCols = ["#FF2020", "#EEEE20", "#33E033", "#4466FF"];
  [2, 1, 0, 3].forEach(k => {
    const c = lineCols[k];
    hline(ba, regionUpper[k], c);
    hline(ba, regionLower[k], c);
    hline(ba, regionBias[k], c, "10,6");
    regLine(ba, regionReg[k], c);
  });
  axisTitleX("Mean of Volume Fractions (%)", 778, 1441);
  axisTitleY(["Slice − Whole Lung", "Volume Fraction (%)"], 446, 1187);

  densityZero(ba.y);
  const dens = [[normalDensInsp, normalDensExp, 2], [poorDensInsp, poorDensExp, 1], [ateDensInsp, ateDensExp, 0], [overDensInsp, overDensExp, 3]];
  dens.forEach(([di, de, k]) => { densityCurve(ba.y, de, lineCols[k], true); densityCurve(ba.y, di, lineCols[k], false); });

  const lg = svg.append("g");
  lg.append("text").attr("x", 1274).attr("y", 1117).attr("font-size", LEGT_FS).text("Region");
  const items = [[["Atelectasis"], 1156], [["Poorly", "Aerated"], 1206], [["Normally", "Aerated"], 1256], [["Overdistended"], 1307]];
  items.forEach(([lines, yy], k) => {
    lg.append("circle").attr("cx", 1299).attr("cy", yy).attr("r", 4.5).attr("fill", regionColors[k]).attr("fill-opacity", 0.5)
      .attr("stroke", regionColors[k]).attr("stroke-opacity", 0.6).attr("stroke-width", 2);
    lines.forEach((ln, j) => {
      lg.append("text").attr("x", 1335).attr("y", yy + (j - (lines.length - 1) / 2) * 19.5).attr("dy", "0.35em").attr("font-size", LEG_FS).text(ln);
    });
  });
}
</script>
</body></html>
